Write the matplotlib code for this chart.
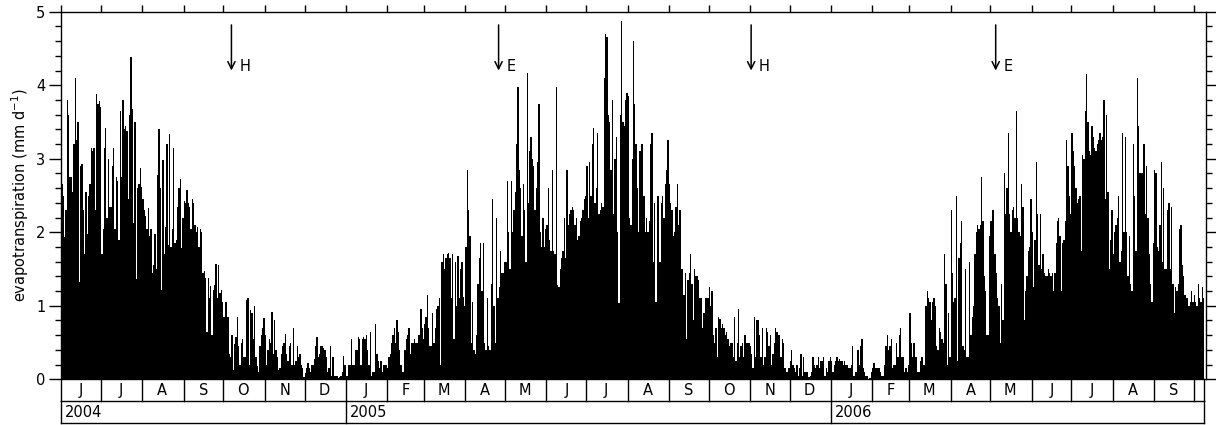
import datetime as dt
import matplotlib
matplotlib.use('Agg')
import matplotlib.pyplot as plt
import matplotlib.transforms as mtransforms
from matplotlib.ticker import MultipleLocator, NullLocator

# daily evapotranspiration (mm/d), one list per month
et_2004_06 = [2.65, 2.5, 1.93, 2.3, 3.8, 3.6, 2.75, 2.75, 2.55, 3.2, 4.1, 3.25, 3.5, 1.33, 2.9,
              2.93, 2.3, 1.7, 2.55, 1.97, 2.5, 2.65, 3.15, 3.1, 3.15, 2.3, 3.88, 3.75, 3.78, 3.7]
et_2004_07 = [1.7, 2.05, 3.15, 3.42, 2.2, 3.0, 2.35, 2.35, 2.9, 3.15, 2.05, 2.75, 2.7, 1.9, 3.65, 2.75,
              3.8, 3.4, 3.45, 3.38, 2.45, 3.6, 4.38, 3.68, 2.12, 3.5, 1.37, 2.6, 2.65, 2.88, 2.62]
et_2004_08 = [2.45, 2.3, 2.22, 2.05, 2.33, 1.95, 2.05, 1.45, 1.55, 1.97, 1.5, 2.78, 3.4, 2.6, 1.22, 2.98,
              1.7, 2.07, 3.2, 1.82, 3.33, 1.8, 2.05, 3.15, 1.85, 1.9, 2.35, 2.6, 2.73, 1.78, 2.2]
et_2004_09 = [2.42, 2.4, 2.58, 2.4, 2.35, 2.05, 2.45, 2.4, 2.1, 2.0, 2.07, 1.8, 2.05, 2.0, 1.45,
              1.47, 1.38, 0.65, 1.38, 1.1, 1.27, 0.6, 1.22, 1.28, 1.57, 1.1, 1.55, 1.18, 1.22, 1.05]
et_2004_10 = [0.85, 1.05, 1.05, 0.85, 0.35, 0.3, 0.6, 0.12, 0.48, 0.58, 0.85, 0.45, 0.2, 0.5, 0.55, 0.3,
              0.3, 1.08, 1.1, 0.2, 0.94, 0.9, 0.55, 1.0, 0.3, 0.18, 0.1, 0.45, 0.6, 0.7, 0.83]
et_2004_11 = [0.6, 0.2, 0.4, 0.55, 0.5, 0.92, 0.35, 0.8, 0.4, 0.3, 0.12, 0.15, 0.35, 0.45, 0.5,
              0.62, 0.35, 0.25, 0.45, 0.5, 0.2, 0.7, 0.2, 0.25, 0.45, 0.3, 0.35, 0.2, 0.15, 0.03]
et_2004_12 = [0.08, 0.15, 0.22, 0.15, 0.1, 0.2, 0.2, 0.28, 0.45, 0.57, 0.3, 0.35, 0.45, 0.45, 0.42, 0.4,
              0.3, 0.1, 0.15, 0.45, 0.05, 0.3, 0.05, 0.05, 0.04, 0.02, 0.03, 0.05, 0.1, 0.32, 0.2]
et_2005_01 = [0.05, 0.05, 0.2, 0.2, 0.55, 0.2, 0.2, 0.4, 0.4, 0.58, 0.55, 0.2, 0.55, 0.57, 0.55, 0.6,
              0.4, 0.2, 0.65, 0.05, 0.1, 0.1, 0.75, 0.35, 0.25, 0.15, 0.25, 0.1, 0.2, 0.2, 0.2]
et_2005_02 = [0.15, 0.3, 0.35, 0.5, 0.6, 0.7, 0.5, 0.8, 0.65, 0.4, 0.2, 0.1, 0.1, 0.4,
              0.55, 0.6, 0.7, 0.35, 0.5, 0.5, 0.55, 0.5, 0.5, 0.6, 0.6, 0.95, 0.7, 0.55]
et_2005_03 = [0.75, 0.85, 1.15, 0.7, 0.45, 0.45, 0.9, 0.5, 0.7, 0.95, 1.0, 1.1, 0.2, 1.6, 1.7, 1.5,
              1.65, 1.7, 1.72, 1.65, 1.1, 1.7, 0.55, 1.6, 1.0, 1.68, 1.1, 1.5, 1.6, 1.12, 1.0]
et_2005_04 = [1.8, 2.85, 2.3, 1.95, 0.5, 1.05, 0.4, 0.35, 0.6, 1.3, 1.65, 1.85, 1.2, 1.85, 0.5,
              0.4, 1.1, 0.45, 0.4, 1.3, 2.45, 1.0, 0.5, 2.2, 1.1, 1.25, 1.75, 1.45, 1.45, 1.6]
et_2005_05 = [1.6, 2.7, 2.0, 1.5, 2.7, 2.0, 2.3, 2.55, 3.2, 3.97, 2.85, 2.6, 1.95, 2.65, 2.3, 1.6,
              4.17, 2.4, 3.1, 3.3, 3.0, 2.9, 2.3, 2.6, 2.95, 3.75, 2.0, 1.8, 2.2, 1.8, 2.05]
et_2005_06 = [2.1, 2.6, 1.9, 1.75, 2.85, 1.75, 1.7, 3.97, 1.28, 1.25, 1.5, 1.65, 1.75, 2.2, 1.65,
              2.85, 2.1, 2.25, 2.3, 2.35, 2.3, 2.1, 2.2, 1.9, 1.95, 2.15, 2.2, 2.3, 2.45, 2.5]
et_2005_07 = [2.9, 2.2, 2.95, 2.5, 3.2, 3.42, 2.4, 2.6, 3.35, 2.25, 2.3, 2.4, 2.35, 4.1, 4.7, 4.65,
              3.6, 3.5, 2.85, 3.8, 2.25, 3.0, 3.3, 2.0, 1.04, 3.6, 4.88, 3.5, 3.45, 3.8, 3.9]
et_2005_08 = [3.85, 2.2, 2.1, 3.0, 4.6, 3.75, 3.2, 2.6, 2.0, 3.1, 3.2, 3.2, 2.5, 2.0, 2.2, 2.0,
              2.15, 3.2, 3.35, 1.6, 2.4, 1.05, 2.5, 2.5, 1.6, 2.4, 2.5, 2.2, 2.65, 2.85, 3.25]
et_2005_09 = [2.65, 2.4, 2.3, 1.95, 2.0, 2.35, 2.65, 2.1, 2.3, 1.5, 1.5, 1.15, 1.45, 0.55, 1.35,
              1.45, 1.7, 1.3, 0.8, 1.5, 1.4, 1.4, 1.35, 1.1, 1.1, 0.7, 0.9, 1.1, 1.1, 1.1]
et_2005_10 = [1.25, 1.0, 1.2, 0.6, 0.5, 0.7, 0.3, 0.85, 0.82, 0.7, 0.75, 0.7, 0.6, 0.65, 0.55, 0.45,
              0.5, 0.5, 0.3, 0.85, 0.25, 0.5, 0.95, 0.3, 0.45, 0.5, 0.3, 0.6, 0.5, 0.5, 0.5]
et_2005_11 = [0.45, 0.35, 0.15, 0.85, 0.3, 0.8, 0.8, 0.6, 0.3, 0.7, 0.2, 0.3, 0.7, 0.65, 0.45,
              0.6, 0.2, 0.35, 0.5, 0.7, 0.65, 0.6, 0.6, 0.3, 0.55, 0.5, 0.15, 0.1, 0.1, 0.15]
et_2005_12 = [0.25, 0.4, 0.2, 0.15, 0.1, 0.2, 0.05, 0.15, 0.35, 0.05, 0.3, 0.1, 0.1, 0.1, 0.03, 0.05,
              0.1, 0.3, 0.2, 0.15, 0.2, 0.3, 0.15, 0.25, 0.25, 0.3, 0.05, 0.15, 0.1, 0.25, 0.3]
et_2006_01 = [0.25, 0.1, 0.2, 0.25, 0.3, 0.25, 0.28, 0.25, 0.25, 0.2, 0.25, 0.2, 0.2, 0.15, 0.15, 0.2,
              0.45, 0.05, 0.1, 0.1, 0.4, 0.2, 0.45, 0.55, 0.15, 0.1, 0.05, 0.05, 0.0, 0.02, 0.1]
et_2006_02 = [0.15, 0.22, 0.15, 0.15, 0.15, 0.15, 0.1, 0.05, 0.05, 0.2, 0.45, 0.6, 0.4, 0.45,
              0.55, 0.15, 0.2, 0.2, 0.5, 0.3, 0.6, 0.7, 0.3, 0.3, 0.1, 0.15, 0.1, 0.2]
et_2006_03 = [0.9, 0.5, 0.3, 0.5, 0.3, 0.3, 0.1, 0.1, 0.25, 0.3, 0.2, 0.2, 1.0, 1.2, 1.1, 1.05,
              0.8, 1.05, 1.1, 1.0, 0.45, 0.4, 0.7, 0.65, 0.55, 0.5, 1.7, 1.3, 0.2, 0.9, 0.3]
et_2006_04 = [2.3, 1.45, 1.05, 1.1, 2.5, 0.25, 1.65, 1.85, 2.15, 0.45, 0.4, 1.5, 0.3, 0.3, 1.6,
              0.6, 0.85, 1.0, 1.7, 2.0, 2.1, 2.05, 2.1, 2.75, 2.15, 1.4, 1.2, 0.6, 0.6, 1.95]
et_2006_05 = [2.15, 2.3, 2.3, 1.7, 1.45, 1.1, 1.0, 0.5, 1.3, 0.8, 2.8, 2.25, 2.6, 3.35, 2.25, 2.0,
              2.3, 2.35, 2.2, 3.65, 2.2, 2.0, 1.95, 2.65, 2.35, 0.8, 1.2, 1.4, 1.75, 1.8, 2.45]
et_2006_06 = [2.0, 1.25, 1.9, 2.95, 2.25, 1.55, 2.25, 1.5, 1.7, 1.45, 1.4, 1.4, 1.5, 1.45, 1.4,
              1.45, 1.2, 1.45, 1.85, 2.15, 2.2, 1.95, 1.2, 1.85, 1.9, 2.15, 3.25, 2.9, 2.5, 2.25]
et_2006_07 = [3.35, 3.1, 2.9, 2.6, 2.4, 2.45, 2.5, 1.75, 3.05, 3.0, 3.65, 4.15, 3.5, 3.1, 3.05, 3.45,
              3.3, 3.15, 3.1, 3.2, 3.25, 3.35, 3.25, 3.3, 3.8, 2.45, 3.6, 2.55, 1.5, 1.9, 2.3]
et_2006_08 = [1.7, 2.0, 2.1, 2.2, 2.5, 1.6, 1.75, 3.35, 2.0, 3.3, 2.0, 1.4, 1.95, 1.3, 1.2, 3.2,
              2.5, 1.75, 4.1, 3.45, 2.8, 2.8, 2.8, 3.2, 2.25, 2.9, 2.2, 1.7, 1.3, 1.05, 1.85]
et_2006_09 = [2.85, 2.8, 1.8, 1.75, 2.1, 2.95, 1.6, 2.6, 1.5, 1.5, 2.3, 2.4, 1.5, 2.35, 1.3,
              0.9, 1.25, 1.2, 1.3, 2.05, 2.1, 1.55, 1.4, 1.15, 1.1, 1.1, 1.0, 1.05, 1.2, 1.05]
et_2006_10 = [1.15, 1.05, 1.0, 1.3, 1.1, 1.05, 1.25, 1.1]

months = [et_2004_06, et_2004_07, et_2004_08, et_2004_09, et_2004_10, et_2004_11, et_2004_12,
          et_2005_01, et_2005_02, et_2005_03, et_2005_04, et_2005_05, et_2005_06, et_2005_07,
          et_2005_08, et_2005_09, et_2005_10, et_2005_11, et_2005_12, et_2006_01, et_2006_02,
          et_2006_03, et_2006_04, et_2006_05, et_2006_06, et_2006_07, et_2006_08, et_2006_09,
          et_2006_10]
et = [v for m in months for v in m]

# harvest (H) and emergence (E) dates
event_dates = [dt.date(2004, 10, 7), dt.date(2005, 4, 26), dt.date(2005, 11, 2), dt.date(2006, 5, 5)]
event_labels = ['H', 'E', 'H', 'E']

start = dt.date(2004, 6, 1)
days = [start + dt.timedelta(days=i) for i in range(len(et))]
data_end = days[-1] + dt.timedelta(days=1)

plt.rcParams['font.family'] = 'DejaVu Sans'
plt.rcParams['font.size'] = 10.5

fig = plt.figure(figsize=(12.16, 4.25), dpi=100)
ax = fig.add_axes([61.3 / 1216, 1 - 379.3 / 425, 1144.4 / 1216, 367.6 / 425])

ax.bar(days, et, width=1.0, align='edge', color='black', linewidth=0)

ax.set_xlim(start, dt.date(2006, 10, 10))
ax.set_ylim(0, 5)
ax.yaxis.set_major_locator(MultipleLocator(1))
ax.yaxis.set_minor_locator(MultipleLocator(0.2))
ax.tick_params(axis='y', which='both', direction='out', left=True, right=True,
               labelright=False, width=1.0)
ax.tick_params(axis='y', which='major', length=8.5, pad=3)
ax.tick_params(axis='y', which='minor', length=4)

# month boundaries as ticks on the top axis
month_starts = []
y, m = 2004, 6
while dt.date(y, m, 1) <= days[-1]:
    month_starts.append(dt.date(y, m, 1))
    m += 1
    if m > 12:
        y, m = y + 1, 1
ax.set_xticks(month_starts)
ax.tick_params(axis='x', which='major', top=True, bottom=False, labeltop=False,
               labelbottom=False, direction='out', length=5, width=1.0)
ax.xaxis.set_minor_locator(NullLocator())

for s in ax.spines.values():
    s.set_linewidth(1.0)

ax.set_ylabel('evapotranspiration (mm d$^{-1}$)', fontsize=10.5)
ax.yaxis.set_label_coords(-0.0265, 0.5)

# arrows for the events
for d, lab in zip(event_dates, event_labels):
    ax.annotate('', xy=(d, 4.2), xytext=(d, 4.82),
                arrowprops=dict(arrowstyle='->', lw=1.1, color='black', mutation_scale=13,
                                shrinkA=0, shrinkB=0))
    ax.text(d + dt.timedelta(days=6), 4.25, lab, ha='left', va='center')

# month / year boxes below the axis
tr = mtransforms.blended_transform_factory(ax.transData, ax.transAxes)
row1 = -22.0 / 367.6
row2 = -44.0 / 367.6
lw = 1.0
edges = month_starts + [data_end]
for e in edges:
    ax.plot([e, e], [0, row1], transform=tr, color='black', lw=lw, clip_on=False)
ax.plot([start, data_end], [row1, row1], transform=tr, color='black', lw=lw, clip_on=False)
ax.plot([start, data_end], [row2, row2], transform=tr, color='black', lw=lw, clip_on=False)
for a, b in zip(edges[:-1], edges[1:]):
    if (b - a).days < 20:
        continue
    mid = a + (b - a) / 2
    ax.text(mid, row1 / 2, a.strftime('%b')[0], transform=tr, ha='center', va='center')

year_edges = [start, dt.date(2005, 1, 1), dt.date(2006, 1, 1), data_end]
for e in year_edges:
    ax.plot([e, e], [row1, row2], transform=tr, color='black', lw=lw, clip_on=False)
for e in year_edges[:-1]:
    ax.text(e + dt.timedelta(days=3), (row1 + row2) / 2, str(e.year), transform=tr,
            ha='left', va='center')

fig.savefig('out.png', dpi=100)
